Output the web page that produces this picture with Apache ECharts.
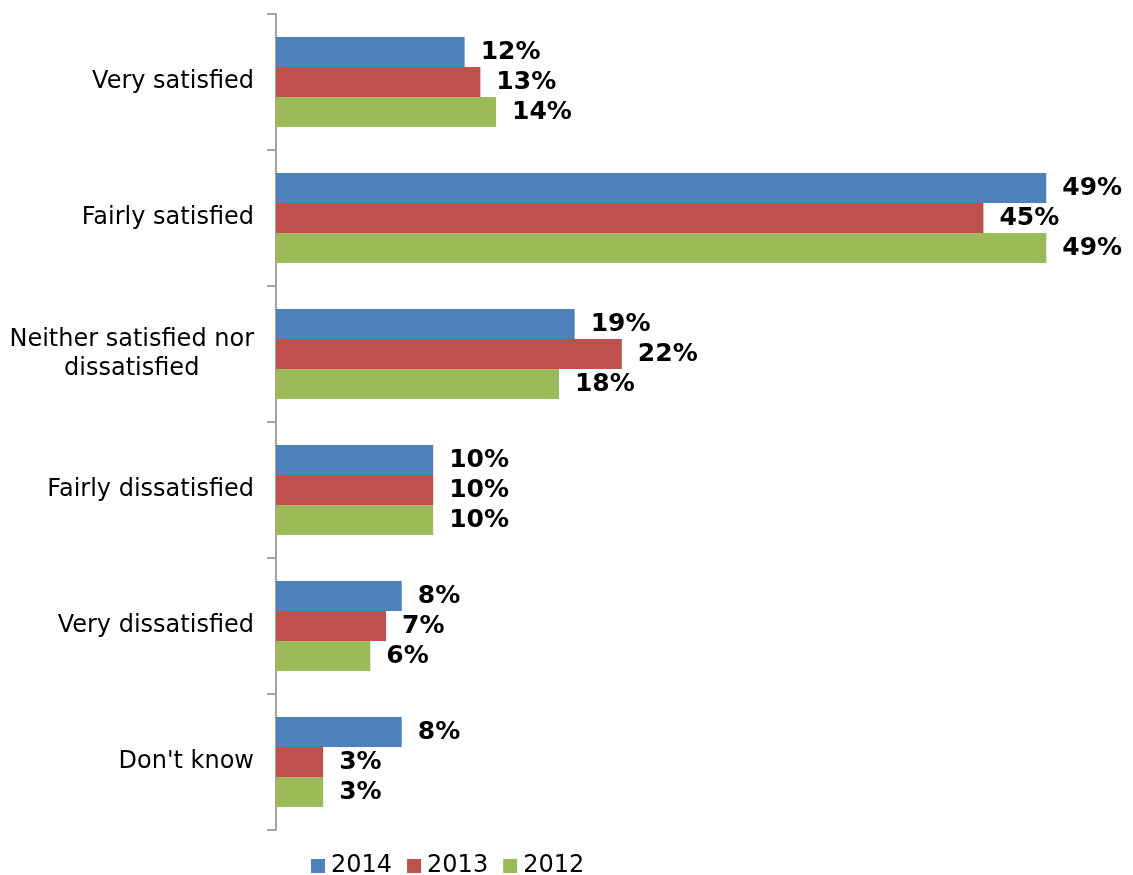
<!DOCTYPE html>
<html>
<head>
<meta charset="utf-8">
<script src="https://cdn.jsdelivr.net/npm/echarts@6/dist/echarts.min.js"></script>
<style>
  html, body { margin: 0; padding: 0; background: #fff; }
  #chart { width: 1133px; height: 875px; }
</style>
</head>
<body>
<div id="chart"></div>
<script>
// Satisfaction survey responses by year (percent)
const categories = [
  'Very satisfied',
  'Fairly satisfied',
  'Neither satisfied nor\ndissatisfied',
  'Fairly dissatisfied',
  'Very dissatisfied',
  "Don't know"
];
const years = ['2014', '2013', '2012'];
const values2014 = [12, 49, 19, 10, 8, 8];
const values2013 = [13, 45, 22, 10, 7, 3];
const values2012 = [14, 49, 18, 10, 6, 3];
const colors = ['#4F81BD', '#C0504D', '#9BBB59'];

const FONT = '"DejaVu Sans", Verdana, sans-serif';

function makeSeries(name, data, color) {
  return {
    name: name,
    type: 'bar',
    data: data,
    barWidth: 30,
    barGap: '0%',
    itemStyle: { color: color },
    label: {
      show: true,
      position: 'right',
      distance: 16,
      formatter: '{c}%',
      color: '#000',
      fontFamily: FONT,
      fontWeight: 'bold',
      fontSize: 25
    }
  };
}

const chart = echarts.init(document.getElementById('chart'), null, { renderer: 'canvas' });
chart.setOption({
  animation: false,
  backgroundColor: '#fff',
  grid: { left: 276, right: 71, top: 14, bottom: 45 },
  legend: {
    data: years,
    top: 854,
    left: 311,
    padding: 0,
    itemWidth: 14,
    itemHeight: 14,
    itemGap: 15,
    icon: 'rect',
    textStyle: { fontFamily: FONT, fontSize: 24, color: '#000', padding: [0, 0, 0, 1] }
  },
  xAxis: {
    type: 'value',
    min: 0,
    max: 50,
    show: false
  },
  yAxis: {
    type: 'category',
    data: categories,
    inverse: true,
    axisLine: { show: true, lineStyle: { color: '#868686', width: 1.5 } },
    axisTick: { show: true, length: 9, lineStyle: { color: '#868686', width: 1.5 } },
    axisLabel: {
      margin: 22,
      fontFamily: FONT,
      fontSize: 24,
      color: '#000',
      lineHeight: 29,
      formatter: function (v) {
        return v.indexOf('\n') >= 0 ? '{c|' + v + '}' : v;
      },
      rich: {
        c: { align: 'center', fontFamily: FONT, fontSize: 24, color: '#000', lineHeight: 29 }
      }
    }
  },
  series: [
    makeSeries(years[0], values2014, colors[0]),
    makeSeries(years[1], values2013, colors[1]),
    makeSeries(years[2], values2012, colors[2])
  ]
});
</script>
</body>
</html>
